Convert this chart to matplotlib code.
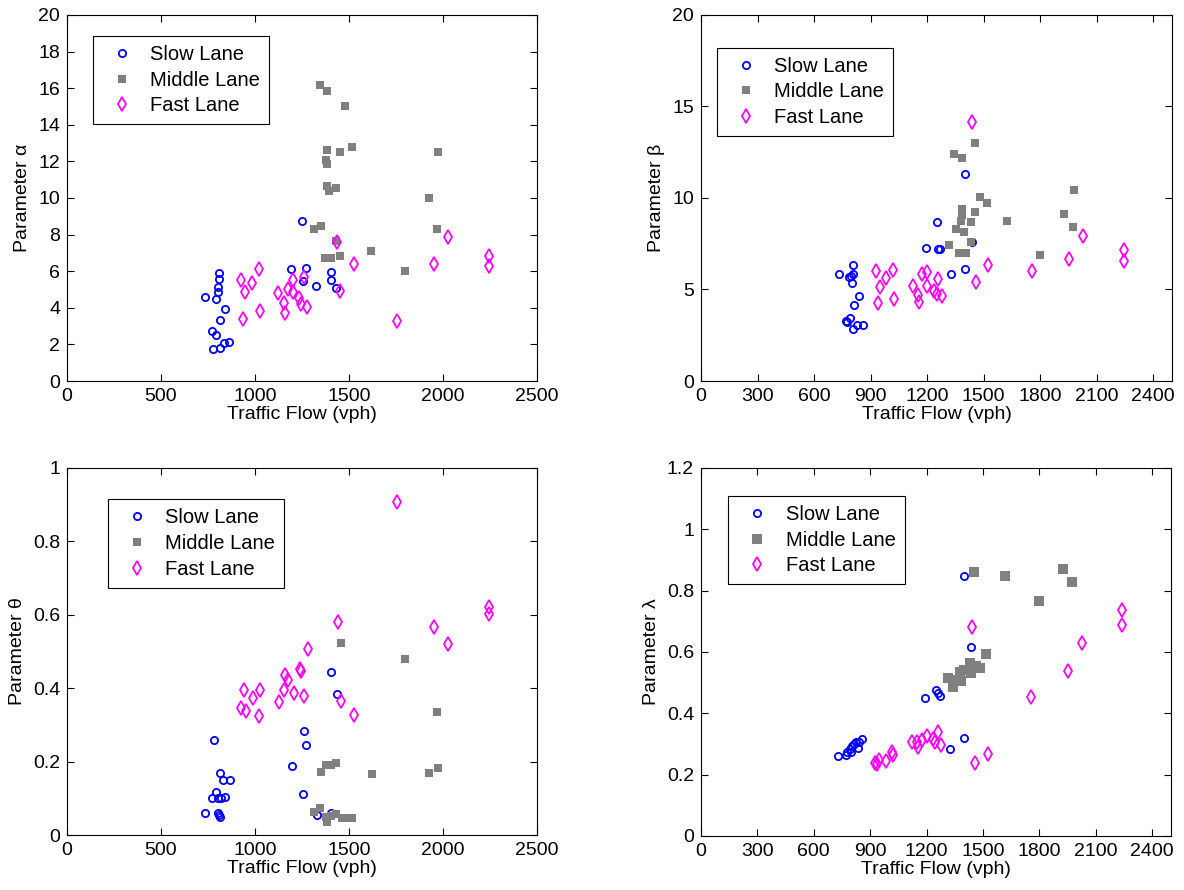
import matplotlib

matplotlib.use("Agg")
import matplotlib.pyplot as plt

plt.rcParams["font.family"] = ["Liberation Sans", "DejaVu Sans"]
plt.rcParams["font.size"] = 14

# ---- parameter alpha (top left) ----
alpha_slow_x = [734, 792, 808, 807, 803, 805, 839, 816, 773, 791, 777, 812, 833, 862,
                1252, 1193, 1270, 1257, 1326, 1402, 1402, 1433]
alpha_slow_y = [4.6, 4.5, 5.88, 5.55, 5.15, 4.86, 3.93, 3.33, 2.73, 2.51, 1.75, 1.82, 2.09, 2.11,
                8.77, 6.13, 6.19, 5.46, 5.19, 5.95, 5.51, 5.06]
alpha_mid_x = [1344, 1383, 1480, 1516, 1452, 1383, 1378, 1383, 1383, 1395, 1431, 1975, 1924,
               1970, 1316, 1351, 1431, 1371, 1406, 1452, 1619, 1798]
alpha_mid_y = [16.2, 15.85, 15.0, 12.78, 12.49, 12.6, 12.07, 11.85, 10.67, 10.37, 10.52, 12.54,
               10.0, 8.3, 8.3, 8.46, 7.66, 6.7, 6.7, 6.83, 7.12, 5.99]
alpha_fast_x = [927, 984, 1020, 949, 938, 1025, 1122, 1152, 1158, 1174, 1204, 1202, 1236, 1246,
                1261, 1277, 1436, 1454, 1525, 1755, 1952, 2025, 2243, 2243]
alpha_fast_y = [5.51, 5.37, 6.13, 4.88, 3.40, 3.82, 4.79, 4.24, 3.73, 5.0, 5.50, 4.86, 4.55, 4.20,
                5.66, 4.06, 7.59, 4.91, 6.42, 3.29, 6.42, 7.88, 6.84, 6.30]

# ---- parameter beta (top right) ----
beta_slow_x = [731, 788, 806, 808, 800, 797, 838, 811, 769, 790, 776, 806, 829, 859,
               1250, 1194, 1259, 1268, 1327, 1401, 1401, 1438]
beta_slow_y = [5.82, 5.69, 5.84, 6.35, 5.33, 5.75, 4.65, 4.16, 3.29, 3.42, 3.24, 2.85, 3.05, 3.04,
               8.71, 7.29, 7.24, 7.24, 5.82, 11.31, 6.13, 7.58]
beta_mid_x = [1344, 1385, 1452, 1482, 1518, 1452, 1385, 1385, 1378, 1431, 1396, 1351, 1314,
              1369, 1406, 1431, 1622, 1799, 1927, 1973, 1980]
beta_mid_y = [12.38, 12.2, 13.0, 10.05, 9.71, 9.24, 9.42, 9.05, 8.75, 8.71, 8.13, 8.31, 7.45,
              7.0, 7.0, 7.58, 8.76, 6.87, 9.13, 8.42, 10.42]
beta_fast_x = [928, 1020, 983, 949, 939, 1024, 1123, 1153, 1156, 1174, 1201, 1201, 1236, 1250,
               1259, 1279, 1440, 1458, 1525, 1757, 1952, 2030, 2246, 2246]
beta_fast_y = [6.0, 6.09, 5.65, 5.13, 4.24, 4.47, 5.18, 4.69, 4.33, 5.82, 5.96, 5.2, 4.93, 4.78,
               5.55, 4.65, 14.13, 5.42, 6.36, 6.0, 6.65, 7.91, 7.15, 6.55]

# ---- parameter theta (bottom left) ----
theta_slow_x = [736, 780, 812, 830, 866, 793, 772, 802, 821, 843, 804, 812, 809,
                1196, 1260, 1269, 1255, 1329, 1404, 1436, 1402]
theta_slow_y = [0.059, 0.259, 0.168, 0.15, 0.15, 0.116, 0.10, 0.10, 0.10, 0.103, 0.059, 0.05, 0.054,
                0.188, 0.283, 0.245, 0.112, 0.055, 0.445, 0.384, 0.061]
theta_mid_x = [1455, 1800, 1970, 1351, 1375, 1406, 1432, 1621, 1924, 1976, 1313, 1345, 1384,
               1379, 1402, 1430, 1465, 1517, 1491]
theta_mid_y = [0.523, 0.48, 0.335, 0.171, 0.191, 0.191, 0.197, 0.165, 0.168, 0.182, 0.062, 0.073,
               0.036, 0.048, 0.053, 0.056, 0.045, 0.047, 0.045]
theta_fast_x = [1757, 2246, 2246, 1953, 2025, 1441, 1280, 1239, 1247, 1159, 1177, 940, 1026, 1154,
                1205, 1263, 987, 1125, 928, 953, 1459, 1022, 1526]
theta_fast_y = [0.906, 0.621, 0.602, 0.567, 0.52, 0.581, 0.508, 0.453, 0.448, 0.437, 0.423, 0.394,
                0.394, 0.394, 0.386, 0.38, 0.373, 0.362, 0.347, 0.339, 0.365, 0.323, 0.327]

# ---- parameter lambda (bottom right) ----
lambda_slow_x = [729, 770, 777, 791, 804, 814, 827, 836, 800, 859, 841,
                 1192, 1249, 1258, 1270, 1325, 1398, 1435, 1398]
lambda_slow_y = [0.261, 0.264, 0.275, 0.284, 0.292, 0.30, 0.308, 0.288, 0.275, 0.316, 0.305,
                 0.449, 0.477, 0.466, 0.458, 0.283, 0.847, 0.616, 0.318]
lambda_mid_x = [1451, 1618, 1923, 1973, 1797, 1515, 1313, 1341, 1368, 1377, 1398, 1430, 1435,
                1465, 1483, 1385]
lambda_mid_y = [0.86, 0.847, 0.872, 0.828, 0.765, 0.595, 0.514, 0.485, 0.509, 0.536, 0.542, 0.564,
                0.533, 0.553, 0.547, 0.504]
lambda_fast_x = [2242, 2242, 1439, 2024, 1950, 1753, 1258, 1203, 1235, 1121, 1151, 1154, 1176,
                 1277, 1245, 1016, 1022, 985, 946, 924, 937, 1455, 1524]
lambda_fast_y = [0.737, 0.687, 0.683, 0.628, 0.539, 0.454, 0.34, 0.326, 0.316, 0.305, 0.305, 0.289,
                 0.313, 0.297, 0.306, 0.275, 0.264, 0.245, 0.248, 0.237, 0.235, 0.237, 0.267]

LANE_NAMES = ["Slow Lane", "Middle Lane", "Fast Lane"]

panels = [
    # rect, data, ylabel, ylim, yticks, xticks, legend anchor, square size
    ([67 / 1184, 1 - 381 / 890, 470 / 1184, 366 / 890],
     (alpha_slow_x, alpha_slow_y, alpha_mid_x, alpha_mid_y, alpha_fast_x, alpha_fast_y),
     "Parameter \u03b1", (0, 20), list(range(0, 21, 2)), list(range(0, 2501, 500)),
     (0.055, 0.943), 5.2),
    ([701 / 1184, 1 - 381 / 890, 471 / 1184, 366 / 890],
     (beta_slow_x, beta_slow_y, beta_mid_x, beta_mid_y, beta_fast_x, beta_fast_y),
     "Parameter \u03b2", (0, 20), [0, 5, 10, 15, 20], list(range(0, 2401, 300)),
     (0.034, 0.911), 5.2),
    ([67 / 1184, 1 - 835 / 890, 470 / 1184, 367 / 890],
     (theta_slow_x, theta_slow_y, theta_mid_x, theta_mid_y, theta_fast_x, theta_fast_y),
     "Parameter \u03b8", (0, 1), [0, 0.2, 0.4, 0.6, 0.8, 1], list(range(0, 2501, 500)),
     (0.087, 0.915), 5.2),
    ([701 / 1184, 1 - 836 / 890, 470 / 1184, 368 / 890],
     (lambda_slow_x, lambda_slow_y, lambda_mid_x, lambda_mid_y, lambda_fast_x, lambda_fast_y),
     "Parameter \u03bb", (0, 1.2), [0, 0.2, 0.4, 0.6, 0.8, 1, 1.2], list(range(0, 2401, 300)),
     (0.058, 0.924), 6.8),
]

fig = plt.figure(figsize=(11.84, 8.9), dpi=100)

for rect, data, ylabel, ylim, yticks, xticks, anchor, sq_size in panels:
    ax = fig.add_axes(rect)
    sx, sy, mx, my, fx, fy = data
    ax.plot(sx, sy, linestyle="none", marker="o", markersize=5.2, markerfacecolor="none",
            markeredgecolor="blue", markeredgewidth=1.3, label=LANE_NAMES[0])
    ax.plot(mx, my, linestyle="none", marker="s", markersize=sq_size, color="#808080",
            markeredgewidth=0, label=LANE_NAMES[1])
    ax.plot(fx, fy, linestyle="none", marker="d", markersize=6.8, markerfacecolor="none",
            markeredgecolor="magenta", markeredgewidth=1.3, label=LANE_NAMES[2])

    ax.set_xlim(0, 2500)
    ax.set_ylim(*ylim)
    ax.set_xticks(xticks)
    ax.set_yticks(yticks)
    ax.set_yticklabels([f"{t:g}" for t in yticks])
    ax.tick_params(direction="in", top=True, right=True, length=5, width=0.8, pad=5)
    for spine in ax.spines.values():
        spine.set_linewidth(0.8)
    ax.set_xlabel("Traffic Flow (vph)", labelpad=1)
    ax.set_ylabel(ylabel, labelpad=5)

    leg = ax.legend(loc="upper left", bbox_to_anchor=anchor, borderaxespad=0,
                    fancybox=False, framealpha=1, edgecolor="black", borderpad=0.45,
                    handlelength=2.0, handletextpad=0.4, labelspacing=0.33, fontsize=14.5)
    leg.get_frame().set_linewidth(0.8)

fig.savefig("out.png", dpi=100)
plt.close(fig)
